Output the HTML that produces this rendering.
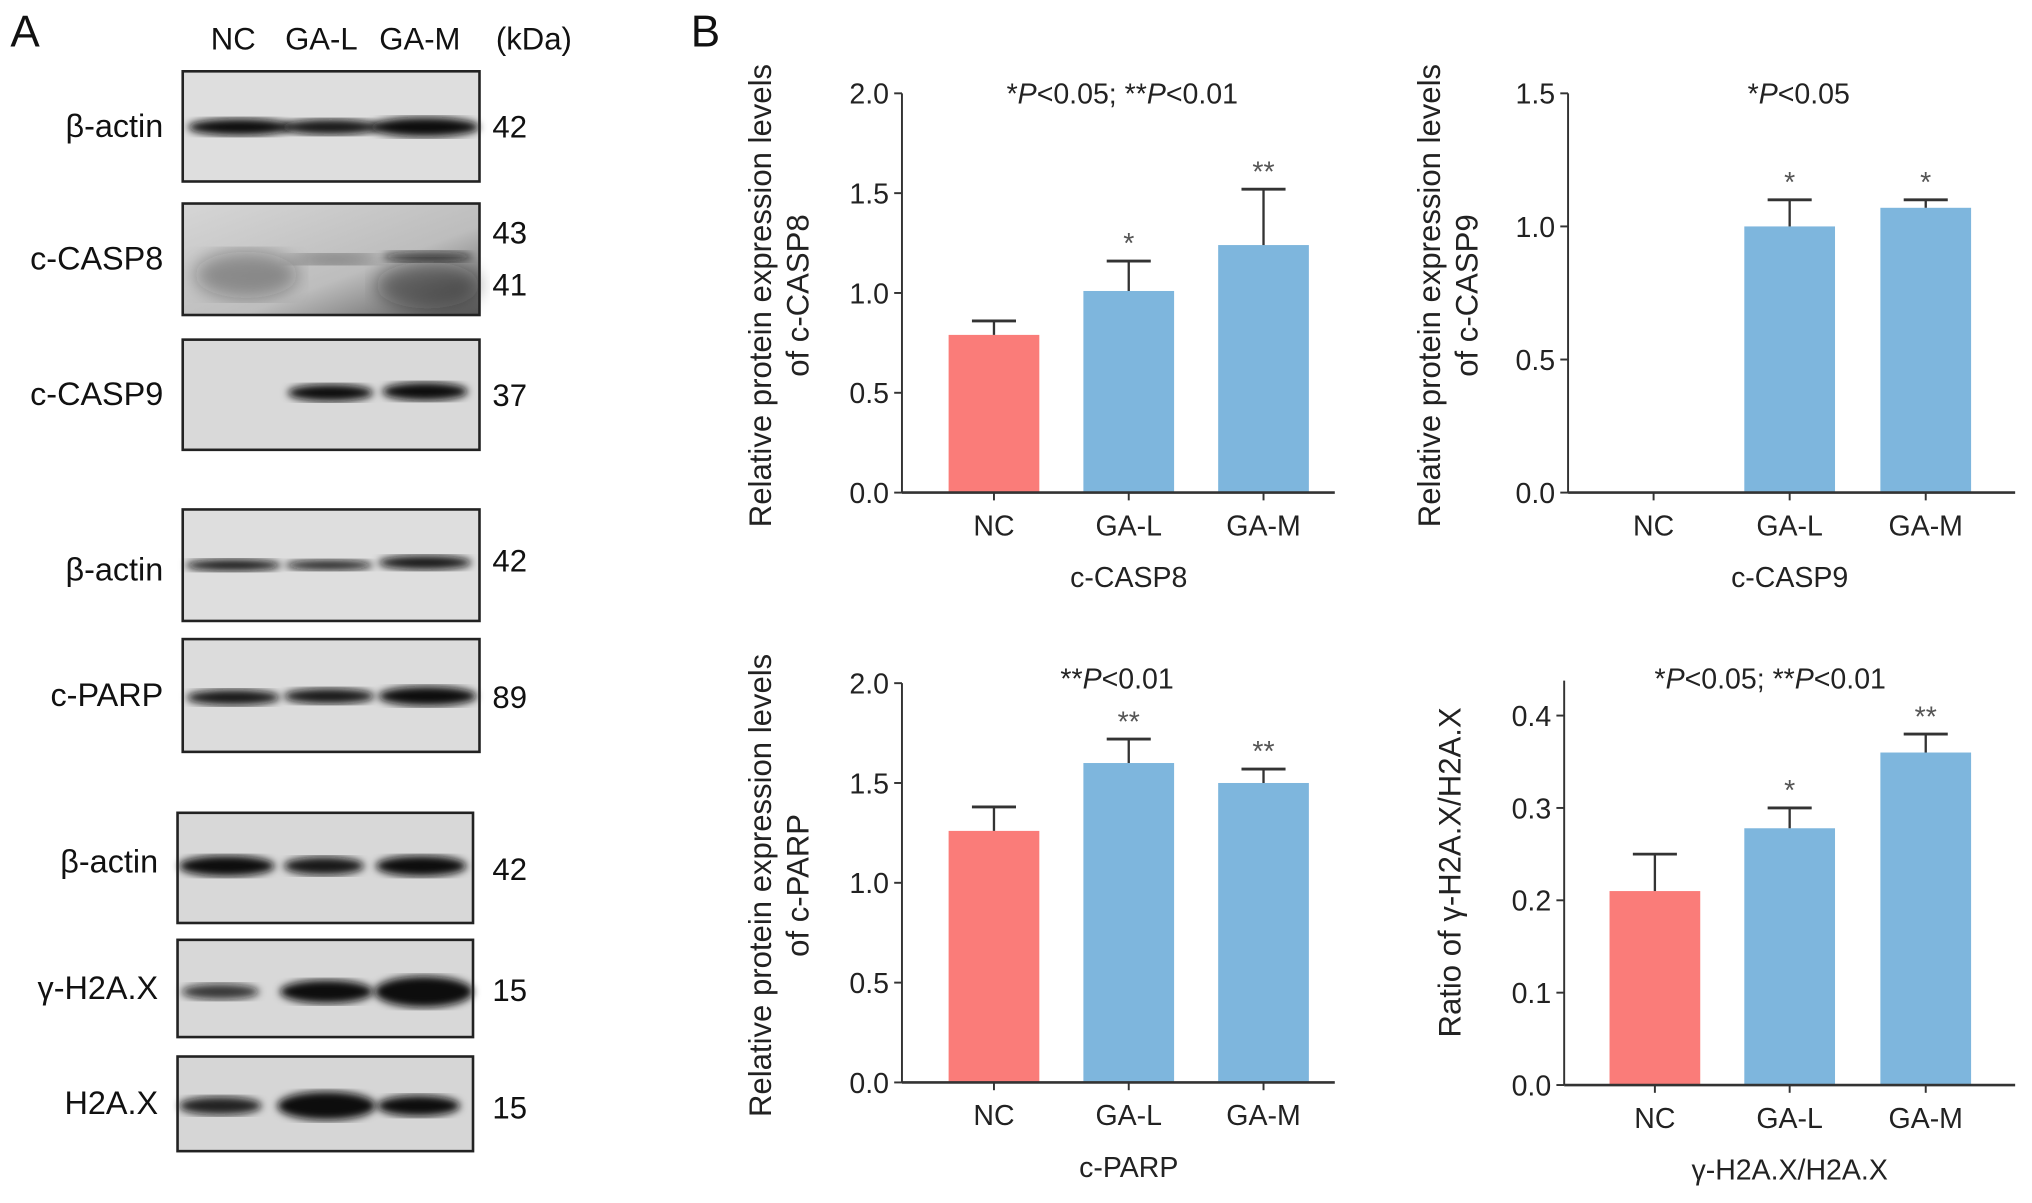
<!DOCTYPE html>
<html><head><meta charset="utf-8"><style>
html,body{margin:0;padding:0;background:#fff;}
svg{display:block;font-family:"Liberation Sans",Arial,sans-serif;}
</style></head><body>
<svg id="fig" width="2032" height="1203" viewBox="0 0 1568 928" preserveAspectRatio="none" xmlns="http://www.w3.org/2000/svg">
<defs>
<filter id="blur2"><feGaussianBlur stdDeviation="3"/></filter>
<filter id="blur6"><feGaussianBlur stdDeviation="7"/></filter>
<linearGradient id="casp8bg" x1="0" y1="0" x2="1" y2="1">
<stop offset="0" stop-color="#d6d6d6"/><stop offset="0.6" stop-color="#bdbdbd"/><stop offset="1" stop-color="#555"/>
</linearGradient>
</defs>
<g id="blots"></g>
<g id="charts"></g>
</svg>
<script>
// ---- chart data ----
const categories = ["NC","GA-L","GA-M"];
const casp8Values = [0.79, 1.01, 1.24];
const casp8Errors = [0.07, 0.15, 0.28];
const casp8Stars = ["", "*", "**"];
const casp8Ticks = [0.0, 0.5, 1.0, 1.5, 2.0];
const casp9Values = [0, 1.0, 1.07];
const casp9Errors = [0, 0.1, 0.03];
const casp9Stars = ["", "*", "*"];
const casp9Ticks = [0.0, 0.5, 1.0, 1.5];
const parpValues = [1.26, 1.60, 1.50];
const parpErrors = [0.12, 0.12, 0.07];
const parpStars = ["", "**", "**"];
const parpTicks = [0.0, 0.5, 1.0, 1.5, 2.0];
const h2axValues = [0.21, 0.278, 0.36];
const h2axErrors = [0.04, 0.022, 0.02];
const h2axStars = ["", "*", "**"];
const h2axTicks = [0.0, 0.1, 0.2, 0.3, 0.4];

const NS = "http://www.w3.org/2000/svg";
function el(tag, attrs, parent, text){
  const e = document.createElementNS(NS, tag);
  for (const k in attrs) e.setAttribute(k, attrs[k]);
  if (text !== undefined) e.textContent = text;
  parent.appendChild(e);
  return e;
}
const charts = document.getElementById('charts');
const blots = document.getElementById('blots');

let t = el('text',{x:8,y:36,'font-size':34,fill:'#111'},charts,'A');


t = el('text',{x:533,y:36,'font-size':34,fill:'#111'},charts,'B');



function chart(cfg){
  const g = el('g',{},charts);
  
  
  const ax = cfg.axisX, y0 = cfg.y0, yTop = cfg.yTop, vmax = cfg.vmax;
  const yScale = v => y0 - (v / vmax) * (y0 - yTop);
  const xs = cfg.centers;
  let a = el('line',{x1:ax,y1:cfg.axisTop!==undefined?cfg.axisTop:yTop,x2:ax,y2:y0,stroke:'#333','stroke-width':1.5},g);
  
  
  cfg.ticks.forEach(v=>{
    const y = yScale(v);
    el('line',{x1:ax-6,y1:y,x2:ax,y2:y,stroke:'#333','stroke-width':1.5},g);
    const tl = el('text',{x:ax-10,y:y+8,'font-size':22,'text-anchor':'end',fill:'#222'},g,v.toFixed(1));
    
    
  });
  cfg.values.forEach((v,i)=>{
    const x = xs[i], w = 70;
    const col = i===0 ? '#fa7c79' : '#7eb6dd';
    if (v > 0){
      const b = el('rect',{x:x-w/2,y:yScale(v),width:w,height:y0-yScale(v),fill:col},g);
      
      
      const e = cfg.errors[i];
      if (e > 0){
        el('line',{x1:x,y1:yScale(v),x2:x,y2:yScale(v+e),stroke:'#333','stroke-width':1.8},g);
        el('line',{x1:x-17,y1:yScale(v+e),x2:x+17,y2:yScale(v+e),stroke:'#333','stroke-width':2.2},g);
      }
      if (cfg.stars[i]){
        const s = el('text',{x:x,y:yScale(v+e)-6,'font-size':22,'text-anchor':'middle',fill:'#555'},g,cfg.stars[i]);
        
        
      }
    }
    el('line',{x1:x,y1:y0,x2:x,y2:y0+6,stroke:'#333','stroke-width':1.5},g);
    const cl = el('text',{x:x,y:y0+33,'font-size':22,'text-anchor':'middle',fill:'#222'},g,categories[i]);
    
    
  });
  a = el('line',{x1:ax,y1:y0,x2:cfg.axisRight,y2:y0,stroke:'#333','stroke-width':2},g);
  
  
  const xt = el('text',{x:xs[1],y:y0+73,'font-size':22,'text-anchor':'middle',fill:'#222'},g,cfg.xTitle);
  
  
  const ph = el('text',{x:cfg.pX,y:cfg.pY,'font-size':22,'text-anchor':'middle',fill:'#222'},g);
  
  
  cfg.p.forEach(part=>{ el('tspan',part[1]?{'font-style':'italic'}:{},ph,part[0]); });
  const yl = el('text',{transform:`translate(${cfg.ylX},${cfg.ylY}) rotate(-90)`,'font-size':24,'text-anchor':'middle',fill:'#222'},g);
  
  
  cfg.yTitle.forEach((line,i)=>{ el('tspan',{x:0,dy:i===0?0:29},yl,line); });
}

const pBoth = [["*"],["P",1],["<0.05; **"],["P",1],["<0.01"]];
chart({name:'chart-c-casp8',axisX:696,y0:380,yTop:72,vmax:2.0,centers:[767,871,975],axisRight:1030,
  values:casp8Values,errors:casp8Errors,stars:casp8Stars,ticks:casp8Ticks,xTitle:'c-CASP8',
  p:pBoth,pX:866,pY:80,yTitle:['Relative protein expression levels','of c-CASP8'],ylX:595,ylY:228});
chart({name:'chart-c-casp9',axisX:1210,y0:380,yTop:72,vmax:1.5,centers:[1276,1381,1486],axisRight:1555,
  values:casp9Values,errors:casp9Errors,stars:casp9Stars,ticks:casp9Ticks,xTitle:'c-CASP9',
  p:[["*"],["P",1],["<0.05"]],pX:1388,pY:80,yTitle:['Relative protein expression levels','of c-CASP9'],ylX:1111,ylY:228});
chart({name:'chart-c-parp',axisX:696,y0:835,yTop:527,vmax:2.0,centers:[767,871,975],axisRight:1030,
  values:parpValues,errors:parpErrors,stars:parpStars,ticks:parpTicks,xTitle:'c-PARP',
  p:[["**"],["P",1],["<0.01"]],pX:862,pY:531,yTitle:['Relative protein expression levels','of c-PARP'],ylX:595,ylY:683});
chart({name:'chart-gamma-h2ax-ratio',axisX:1207,y0:837,yTop:552,vmax:0.4,axisTop:525,centers:[1277,1381,1486],axisRight:1555,
  values:h2axValues,errors:h2axErrors,stars:h2axStars,ticks:h2axTicks,xTitle:'γ-H2A.X/H2A.X',
  p:pBoth,pX:1366,pY:531,yTitle:['Ratio of γ-H2A.X/H2A.X'],ylX:1127,ylY:673});

// ---- western blots ----
const laneNames = ["NC","GA-L","GA-M"];
const laneX = [180,248,324];
laneNames.forEach((n,i)=>{
  const tx = el('text',{x:laneX[i],y:38,'font-size':24,'text-anchor':'middle',fill:'#111'},blots,n);
  
  
});
t = el('text',{x:412,y:38,'font-size':24,'text-anchor':'middle',fill:'#111'},blots,'(kDa)');



const blotRows = [
  {label:'β-actin',x:141,y:55,w:229,h:85,bg:'#dedede',bands:[[185,98,80,13,1],[255,98,76,12,0.95],[328,98,84,15,1]],kda:[['42',98]]},
  {label:'c-CASP8',x:141,y:157,w:229,h:86,bg:'url(#casp8bg)',bands:[[190,212,80,36,0.35],[258,200,70,8,0.55],[330,198,70,8,0.7],[330,220,80,36,0.45]],kda:[['43',180],['41',220]],labelY:208},
  {label:'c-CASP9',x:141,y:262,w:229,h:85,bg:'#d9d9d9',bands:[[255,303,66,13,1],[328,302,66,14,1]],kda:[['37',305]]},
  {label:'β-actin',x:141,y:393,w:229,h:86,bg:'#dedede',bands:[[180,436,74,9,0.95],[254,436,68,8,0.9],[328,434,72,11,0.95]],kda:[['42',433]],labelY:448},
  {label:'c-PARP',x:141,y:493,w:229,h:87,bg:'#dcdcdc',bands:[[180,538,72,12,0.95],[254,537,70,12,0.95],[330,537,76,15,1]],kda:[['89',538]]},
  {label:'β-actin',x:137,y:627,w:228,h:85,bg:'#d8d8d8',bands:[[175,668,74,16,1],[250,668,62,14,0.95],[325,668,70,16,1]],kda:[['42',671]],labelY:673},
  {label:'γ-H2A.X',x:137,y:725,w:228,h:75,bg:'#d8d8d8',bands:[[170,765,60,12,0.8],[252,765,72,18,1],[327,765,76,24,1]],kda:[['15',764]]},
  {label:'H2A.X',x:137,y:815,w:228,h:73,bg:'#d6d6d6',bands:[[170,853,64,14,0.9],[252,853,76,22,1],[323,853,64,16,1]],kda:[['15',855]]}
];
blotRows.forEach(r=>{
  const g = el('g',{},blots);
  
  
  el('rect',{x:r.x,y:r.y,width:r.w,height:r.h,fill:r.bg},g);
  r.bands.forEach(b=>{
    el('ellipse',{cx:b[0],cy:b[1],rx:b[2]/2,ry:b[3]/2,fill:'#111','fill-opacity':b[4],filter:b[4]<0.6?'url(#blur6)':'url(#blur2)'},g);
  });
  el('rect',{x:r.x,y:r.y,width:r.w,height:r.h,fill:'none',stroke:'#222','stroke-width':2},g);
  const ly = r.labelY || (r.y + r.h/2 + 8);
  const lb = el('text',{x:r.x-15,y:ly,'font-size':25,'text-anchor':'end',fill:'#111'},g,r.label);
  
  
  r.kda.forEach(k=>{
    const kt = el('text',{x:380,y:k[1]+8,'font-size':24,fill:'#111'},g,k[0]);
    
    
  });
});
</script>
</body></html>
